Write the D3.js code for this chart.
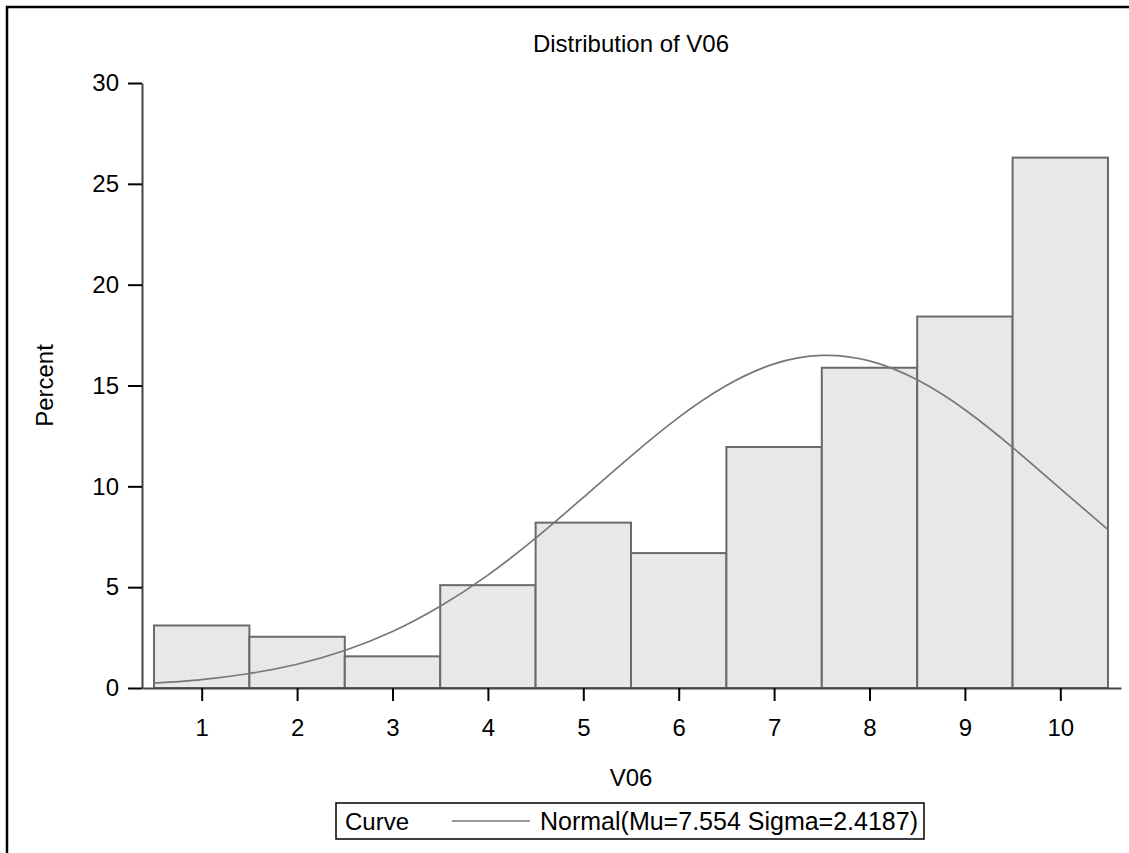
<!DOCTYPE html>
<head>
    <meta charset="utf-8">
    <style>
        body { margin: 0; background: #fff; }
        svg { display: block; }
        text { font-family: 'Liberation Sans', Arial, sans-serif; fill: #000; }
        .axis .domain { stroke: #444; stroke-width: 2px; }
        .axis line { stroke: #000; stroke-width: 2px; }
        .axis text { font-size: 24px; }
        .bar { fill: #e8e8e8; stroke: #6a6a6a; stroke-width: 2px; }
        .curve { fill: none; stroke: #777; stroke-width: 1.7px; }
    </style>
</head>
<body>
    <div id="chart"></div>
    <script src="https://d3js.org/d3.v7.min.js"></script>
    <script>
        // histogram of V06 (percent per value)
        var categories = [1, 2, 3, 4, 5, 6, 7, 8, 9, 10];
        var percents = [3.10, 2.54, 1.57, 5.10, 8.20, 6.69, 11.95, 15.88, 18.42, 26.30];

        // normal curve
        var curveX = [0.5, 1, 1.5, 2, 2.5, 3, 3.5, 4, 4.5, 5, 5.5, 6, 6.5, 7, 7.5, 8, 8.5, 9, 9.5, 10, 10.5];
        var curveY = [0.24, 0.42, 0.72, 1.18, 1.86, 2.80, 4.05, 5.60, 7.43, 9.45, 11.50, 13.42, 15.00, 16.07, 16.49, 16.22, 15.28, 13.80, 11.93, 9.89, 7.85];

        var yTicks = [0, 5, 10, 15, 20, 25, 30];
        var xTicks = categories;

        var title = "Distribution of V06";
        var xLabel = "V06";
        var yLabel = "Percent";
        var legendTitle = "Curve";
        var legendLabel = "Normal(Mu=7.554 Sigma=2.4187)";

        var W = 1129, H = 853;
        var plot = {left: 142, right: 1121, top: 83, bottom: 688};

        var svg = d3.select("#chart").append("svg")
            .attr("width", W)
            .attr("height", H);

        // outer frame (only left and top edges are in view)
        svg.append("path")
            .attr("d", "M7," + H + "V7H" + W)
            .attr("fill", "none")
            .attr("stroke", "#000")
            .attr("stroke-width", 2.5);

        var x = d3.scaleLinear().domain([0.5, 10.5]).range([154, 1108]);
        var xAxisScale = x.copy()
            .domain([x.invert(plot.left), x.invert(plot.right)])
            .range([plot.left, plot.right]);
        var y = d3.scaleLinear().domain([0, 30]).range([plot.bottom, plot.top]);

        // bars
        svg.append("g")
            .selectAll("rect")
            .data(categories)
            .enter().append("rect")
            .attr("class", "bar")
            .attr("x", function(d) { return x(d - 0.5); })
            .attr("y", function(d, i) { return y(percents[i]); })
            .attr("width", function(d) { return x(d + 0.5) - x(d - 0.5); })
            .attr("height", function(d, i) { return y(0) - y(percents[i]); });

        // normal curve
        var line = d3.line()
            .x(function(d, i) { return x(curveX[i]); })
            .y(function(d) { return y(d); })
            .curve(d3.curveNatural);

        svg.append("path")
            .datum(curveY)
            .attr("class", "curve")
            .attr("d", line);

        // axes
        svg.append("g")
            .attr("class", "axis")
            .attr("transform", "translate(0," + plot.bottom + ")")
            .call(d3.axisBottom(xAxisScale).tickValues(xTicks).tickSize(13).tickSizeOuter(0).tickPadding(18));

        svg.append("g")
            .attr("class", "axis")
            .attr("transform", "translate(" + plot.left + ",0)")
            .call(d3.axisLeft(y).tickValues(yTicks).tickSize(14).tickSizeOuter(0).tickPadding(9));

        // titles
        svg.append("text")
            .attr("x", 631)
            .attr("y", 52)
            .attr("text-anchor", "middle")
            .style("font-size", "24px")
            .text(title);

        svg.append("text")
            .attr("x", 631)
            .attr("y", 786)
            .attr("text-anchor", "middle")
            .style("font-size", "24px")
            .text(xLabel);

        svg.append("text")
            .attr("transform", "translate(53," + ((plot.top + plot.bottom) / 2) + ") rotate(-90)")
            .attr("text-anchor", "middle")
            .style("font-size", "24px")
            .text(yLabel);

        // legend
        var legend = svg.append("g");
        legend.append("rect")
            .attr("x", 336)
            .attr("y", 803)
            .attr("width", 588)
            .attr("height", 36)
            .attr("fill", "#fff")
            .attr("stroke", "#000")
            .attr("stroke-width", 1.5);
        legend.append("text")
            .attr("x", 345)
            .attr("y", 830)
            .style("font-size", "24px")
            .text(legendTitle);
        legend.append("line")
            .attr("class", "curve")
            .attr("x1", 452)
            .attr("x2", 530)
            .attr("y1", 821)
            .attr("y2", 821);
        legend.append("text")
            .attr("x", 540)
            .attr("y", 830)
            .attr("textLength", 378)
            .style("font-size", "25px")
            .text(legendLabel);
    </script>
</body>
